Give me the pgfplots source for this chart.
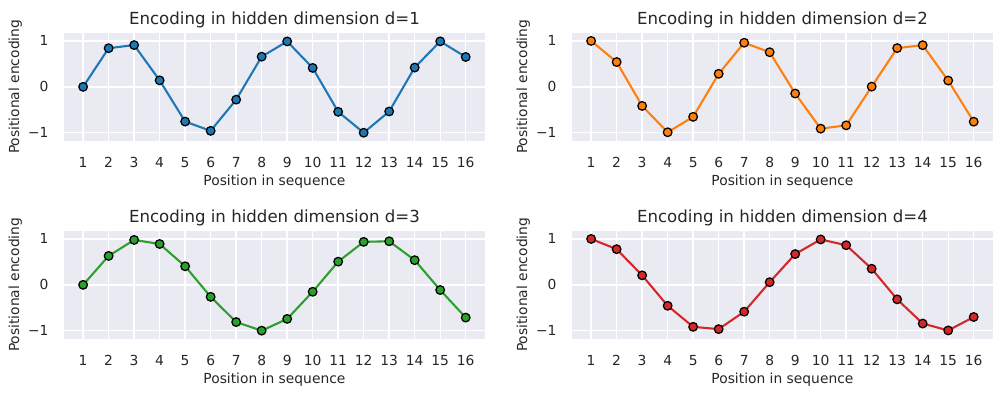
\documentclass[border=0pt]{standalone}
\usepackage{fontspec}
\setmainfont{DejaVu Sans}
\usepackage{pgfplots}
\pgfplotsset{compat=1.18}
\definecolor{bg}{HTML}{EAEAF2}
\definecolor{txt}{HTML}{262626}
\definecolor{c1}{HTML}{1F77B4}
\definecolor{c2}{HTML}{FF7F0E}
\definecolor{c3}{HTML}{2CA02C}
\definecolor{c4}{HTML}{D62728}
\pgfplotsset{pe/.style={
  scale only axis, width=303bp, height=78bp,
  anchor=south west,
  xmin=0.25, xmax=16.75, ymin=-1.18, ymax=1.18,
  axis background/.style={fill=bg},
  axis line style={draw=none},
  grid=major, major grid style={white, line width=1bp},
  xtick={1,2,3,4,5,6,7,8,9,10,11,12,13,14,15,16},
  xticklabels={1,2,3,4,5,6,7,8,9,10,11,12,13,14,15,16},
  ytick={-1,0,1}, yticklabels={−1,0,1},
  major tick length=0pt, tick style={draw=none},
  ticklabel style={font=\fontsize{10}{12}\selectfont, text=txt},
  xticklabel style={yshift=-8.4bp},
  yticklabel style={xshift=-7.7bp},
  title style={font=\fontsize{12}{14}\selectfont, text=txt, at={(axis description cs:0.5,1.122)}, anchor=center, yshift=-6pt},
  xlabel style={font=\fontsize{10}{12}\selectfont, text=txt, at={(axis description cs:0.5,-0.376)}, anchor=center},
  ylabel style={font=\fontsize{10}{12}\selectfont, text=txt, at={(axis description cs:-0.1155,0.5)}, anchor=center},
  xlabel={Position in sequence}, ylabel={Positional encoding},
  clip=false,
},
pl/.style={#1, line width=1.5bp, mark=*, mark size=3.1bp, mark options={draw=black, line width=0.9bp, fill=#1}}}
\begin{document}
\begin{tikzpicture}
\useasboundingbox (0,0) rectangle (722.16bp,285.84bp);
\begin{axis}[pe, at={(46.08bp,184.32bp)}, title={Encoding in hidden dimension d=1}]
\addplot[pl=c1] coordinates {(1,0) (2,0.8415) (3,0.9093) (4,0.1411) (5,-0.7568) (6,-0.9589) (7,-0.2794) (8,0.6570) (9,0.9894) (10,0.4121) (11,-0.5440) (12,-1.0000) (13,-0.5366) (14,0.4202) (15,0.9906) (16,0.6503)};
\end{axis}
\begin{axis}[pe, at={(411.84bp,184.32bp)}, title={Encoding in hidden dimension d=2}]
\addplot[pl=c2] coordinates {(1,1) (2,0.5403) (3,-0.4161) (4,-0.9900) (5,-0.6536) (6,0.2837) (7,0.9602) (8,0.7539) (9,-0.1455) (10,-0.9111) (11,-0.8391) (12,0.0044) (13,0.8439) (14,0.9074) (15,0.1367) (16,-0.7597)};
\end{axis}
\begin{axis}[pe, at={(46.08bp,41.76bp)}, title={Encoding in hidden dimension d=3}]
\addplot[pl=c3] coordinates {(1,0) (2,0.6299) (3,0.9782) (4,0.8898) (5,0.4040) (6,-0.2616) (7,-0.8110) (8,-0.9983) (9,-0.7421) (10,-0.1509) (11,0.5054) (12,0.9364) (13,0.9486) (14,0.5375) (15,-0.1131) (16,-0.7136)};
\end{axis}
\begin{axis}[pe, at={(411.84bp,41.76bp)}, title={Encoding in hidden dimension d=4}]
\addplot[pl=c4] coordinates {(1,1) (2,0.7767) (3,0.2067) (4,-0.4563) (5,-0.9148) (6,-0.9652) (7,-0.5850) (8,0.0573) (9,0.6702) (10,0.9886) (11,0.8629) (12,0.3510) (13,-0.3166) (14,-0.8432) (15,-0.9936) (16,-0.7006)};
\end{axis}
\end{tikzpicture}
\end{document}
